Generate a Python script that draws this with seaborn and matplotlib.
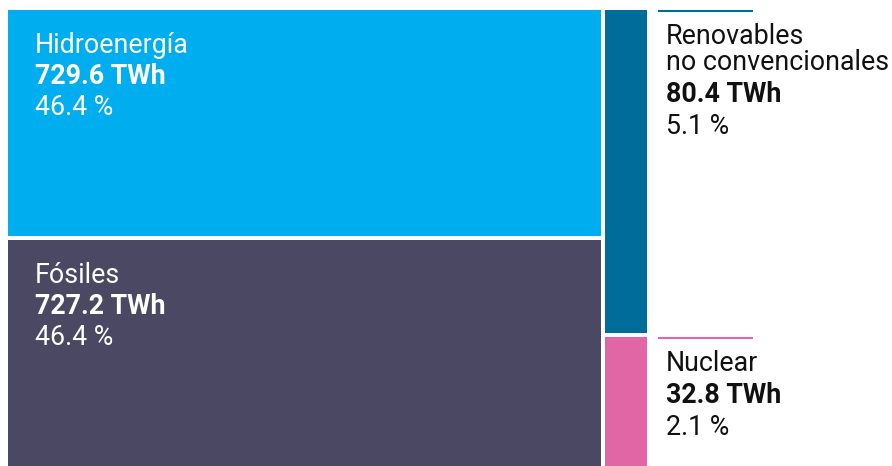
import matplotlib
matplotlib.use("Agg")
import matplotlib.pyplot as plt
import seaborn as sns
from matplotlib.patches import Rectangle

# generación eléctrica por fuente (TWh)
sources = ["Hidroenergía", "Fósiles", "Renovables\nno convencionales", "Nuclear"]
twh = [729.6, 727.2, 80.4, 32.8]
pct = [46.4, 46.4, 5.1, 2.1]
column = [0, 0, 1, 1]
colors = ["#00aeef", "#4a4862", "#006c9a", "#e066a6"]

sns.set_theme(style="white")
plt.rcParams["font.family"] = ["Roboto", "DejaVu Sans"]

W, H = 892, 466
fig = plt.figure(figsize=(W / 100, H / 100), dpi=100)
ax = fig.add_axes([0, 0, 1, 1])
ax.set_xlim(0, W)
ax.set_ylim(H, 0)
ax.axis("off")

# area of the treemap (px) and gap between tiles
x0, y0, aw, ah = 6, 8, 643, 460
gap = 2
total = sum(twh)

def layout():
    rects = []
    cx = x0
    for c in sorted(set(column)):
        idx = [i for i in range(len(twh)) if column[i] == c]
        csum = sum(twh[i] for i in idx)
        cw = aw * csum / total
        cy = y0
        for i in idx:
            rh = ah * twh[i] / csum
            rects.append((i, cx, cy, cw, rh))
            cy += rh
        cx += cw
    return sorted(rects)

fs = 19.3
for i, x, y, w, h in layout():
    ax.add_patch(Rectangle((x + gap, y + gap), w - 2 * gap, h - 2 * gap,
                           facecolor=colors[i], edgecolor="none"))
    if column[i] == 0:
        tx = x + gap + 27
        base = y + gap + 43
        ax.text(tx, base, sources[i], color="white", fontsize=fs, va="baseline")
        ax.text(tx, base + 31, f"{twh[i]:.1f} TWh", color="white", fontsize=fs,
                fontweight="bold", va="baseline")
        ax.text(tx, base + 62, f"{pct[i]:.1f} %", color="white", fontsize=fs, va="baseline")
    else:
        lx = x + w - gap + 11
        ly = y + gap + 1
        ax.plot([lx, lx + 95], [ly, ly], color=colors[i], lw=1.5, solid_capstyle="butt")
        tx = lx + 8
        base = ly + 33
        lines = sources[i].split("\n")
        for k, line in enumerate(lines):
            ax.text(tx, base + 26 * k, line, color="#111111", fontsize=fs, va="baseline")
        base += 26 * (len(lines) - 1)
        ax.text(tx, base + 32, f"{twh[i]:.1f} TWh", color="#111111", fontsize=fs,
                fontweight="bold", va="baseline")
        ax.text(tx, base + 64, f"{pct[i]:.1f} %", color="#111111", fontsize=fs, va="baseline")

fig.savefig("out.png", dpi=100)
